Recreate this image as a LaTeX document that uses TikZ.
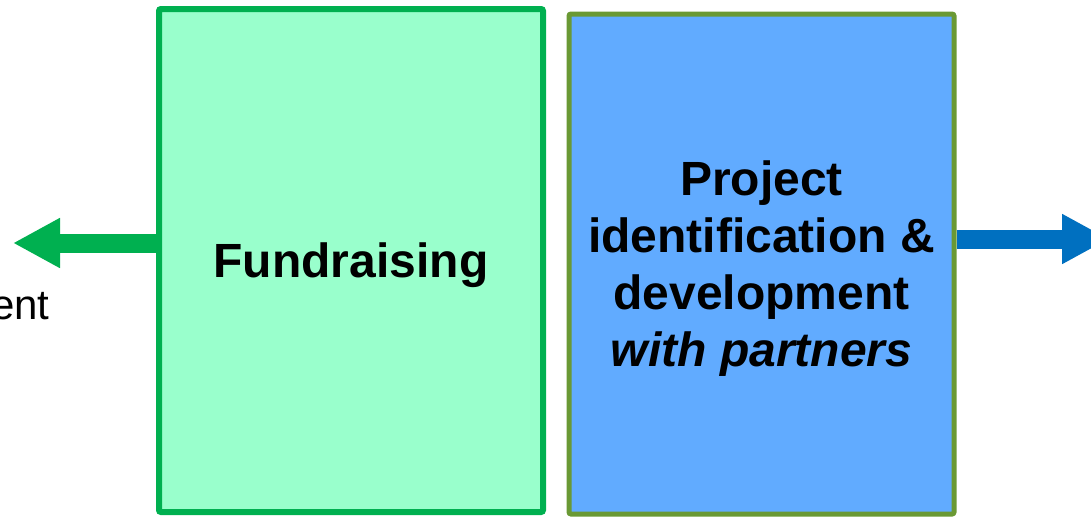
\documentclass[tikz,border=0pt]{standalone}
\usepackage{fontspec}
\setmainfont{Liberation Sans}
\usetikzlibrary{arrows.meta}
\definecolor{fundfill}{HTML}{99FFCC}
\definecolor{fundline}{HTML}{00B050}
\definecolor{projfill}{HTML}{61ABFF}
\definecolor{projline}{HTML}{6A9934}
\definecolor{outblue}{HTML}{0070C0}

\begin{document}
\begin{tikzpicture}[x=.5pt,y=-.5pt,
   box/.style={draw, rounded corners=1pt, align=center, text depth=0pt,
      font=\fontsize{24}{28.5}\selectfont\bfseries},
   fat/.style={line width=9.5pt, -{Triangle[length=23.5pt,width=23.5pt]}}]
   \useasboundingbox (0,0) rectangle (1091,516);
   \clip (0,0) rectangle (1091,516);

   \node[box, fill=fundfill, draw=fundline, line width=3pt,
         minimum width=192pt, minimum height=251.5pt] (fund) at (351,260.5) {Fundraising};
   \node[box, fill=projfill, draw=projline, line width=2.5pt,
         minimum width=192.5pt, minimum height=250pt] (proj) at (761.5,264)
         {Project\\identification \&\\development\\\textit{with partners}};

   \coordinate (lefttip) at (13,243);
   \coordinate (righttip) at (1109,239);
   \node[anchor=base east, inner sep=0pt, font=\fontsize{21}{25}\selectfont] (ent) at (50,319) {ent};

   \draw[fat, fundline] (fund.west |- lefttip) -- (lefttip);
   \draw[fat, outblue] (proj.east |- righttip) -- (righttip);

\end{tikzpicture}
\end{document}
